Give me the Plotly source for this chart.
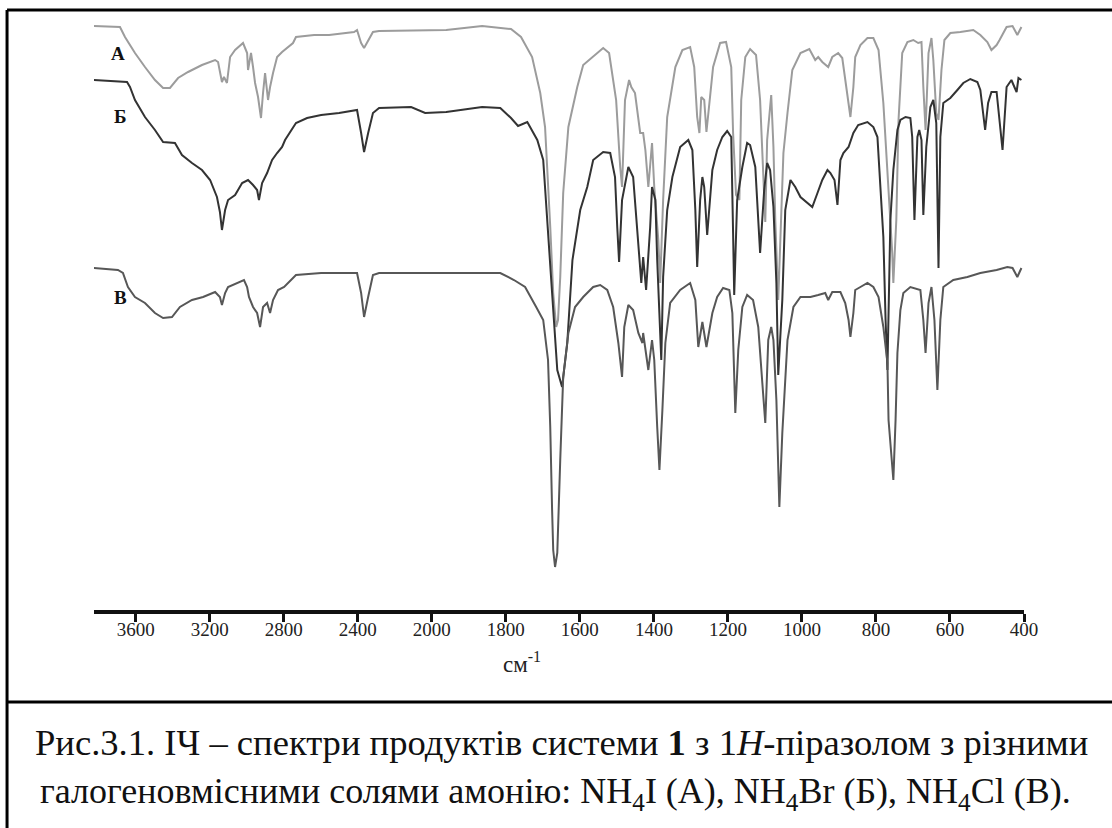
import numpy as np
import plotly.graph_objects as go

# ---------------- data (wavenumber, cm^-1 ; signal in arbitrary stacked units) -------------
wn_A = [3831, 3685, 3658, 3604, 3550, 3496, 3452, 3415, 3371, 3317, 3242, 3171, 3155, 3134, 3123,
        3107, 3090, 3063, 3020, 2998, 2993, 2977, 2966, 2955, 2939, 2923, 2912, 2901, 2885, 2874,
        2858, 2836, 2809, 2750, 2734, 2636, 2555, 2420, 2404, 2382, 2366, 2344, 2318, 2285, 1961,
        1864, 1786, 1759, 1729, 1707, 1694, 1680, 1672, 1664, 1659, 1653, 1645, 1631, 1607, 1591,
        1567, 1537, 1521, 1502, 1491, 1486, 1478, 1467, 1461, 1451, 1437, 1429, 1423, 1415, 1405,
        1399, 1388, 1383, 1375, 1364, 1342, 1323, 1302, 1291, 1283, 1277, 1272, 1264, 1258, 1250,
        1240, 1221, 1205, 1191, 1186, 1178, 1169, 1164, 1153, 1140, 1124, 1113, 1105, 1099, 1094,
        1083, 1077, 1072, 1064, 1050, 1039, 1026, 1004, 980, 964, 956, 945, 929, 918, 902,
        891, 883, 874, 869, 861, 856, 842, 823, 807, 793, 780, 766, 756, 753, 745,
        739, 729, 715, 699, 686, 677, 672, 666, 658, 650, 645, 637, 631, 623, 615,
        599, 572, 537, 518, 499, 488, 474, 466, 447, 431, 418, 407]
val_A = [584, 583, 573, 557, 543, 530, 522, 522, 532, 538, 545, 550, 548, 528, 533,
         527, 553, 560, 567, 557, 540, 557, 543, 527, 513, 492, 517, 537, 510, 523,
         537, 553, 558, 567, 573, 575, 575, 578, 580, 567, 562, 570, 578, 579, 580,
         584, 581, 573, 553, 517, 483, 383, 317, 283, 290, 333, 417, 483, 523, 545,
         553, 562, 557, 510, 443, 423, 510, 530, 523, 517, 477, 477, 460, 423, 467,
         423, 370, 327, 410, 493, 543, 560, 563, 543, 493, 477, 513, 510, 478, 510,
         543, 567, 568, 543, 477, 415, 410, 510, 553, 561, 555, 510, 443, 388, 470,
         515, 463, 390, 310, 457, 497, 540, 557, 561, 550, 553, 548, 543, 553, 557,
         552, 530, 507, 493, 523, 553, 565, 572, 572, 560, 507, 423, 357, 327, 390,
         490, 557, 568, 570, 567, 568, 523, 480, 557, 572, 550, 497, 490, 540, 570,
         577, 578, 580, 575, 568, 560, 565, 570, 583, 584, 575, 583]

wn_B = [3831, 3647, 3631, 3604, 3550, 3496, 3452, 3388, 3350, 3296, 3242, 3198, 3161, 3145, 3134,
        3117, 3101, 3063, 3025, 2993, 2966, 2944, 2934, 2917, 2890, 2863, 2836, 2809, 2793, 2734,
        2674, 2598, 2501, 2404, 2382, 2366, 2344, 2318, 2285, 2112, 2036, 1961, 1864, 1815, 1786,
        1767, 1742, 1715, 1699, 1686, 1675, 1661, 1648, 1634, 1620, 1599, 1580, 1564, 1537, 1518,
        1505, 1499, 1494, 1486, 1469, 1456, 1445, 1434, 1429, 1421, 1410, 1405, 1396, 1391, 1380,
        1375, 1364, 1350, 1329, 1307, 1296, 1288, 1283, 1275, 1269, 1264, 1256, 1242, 1229, 1215,
        1202, 1191, 1186, 1183, 1175, 1161, 1148, 1140, 1126, 1113, 1102, 1094, 1086, 1077, 1069,
        1064, 1053, 1045, 1031, 1018, 1004, 985, 972, 958, 945, 931, 923, 912, 904, 896,
        888, 874, 861, 848, 823, 807, 796, 788, 780, 774, 769, 761, 753, 742, 734,
        720, 707, 702, 696, 688, 683, 677, 672, 664, 653, 645, 637, 631, 626, 618,
        599, 580, 564, 545, 526, 518, 510, 505, 497, 488, 474, 466, 458, 447, 434,
        426, 420, 415, 407]
val_B = [530, 528, 523, 510, 493, 480, 468, 467, 455, 447, 440, 430, 413, 398, 380,
         400, 410, 415, 427, 430, 425, 420, 410, 427, 437, 450, 457, 463, 470, 487,
         492, 495, 497, 500, 477, 458, 477, 497, 502, 503, 497, 498, 503, 502, 492,
         484, 488, 470, 450, 383, 317, 240, 223, 267, 350, 400, 423, 450, 458, 457,
         433, 383, 348, 410, 443, 433, 383, 327, 353, 320, 383, 423, 410, 350, 250,
         333, 400, 433, 463, 470, 460, 400, 343, 410, 433, 423, 375, 440, 460, 473,
         479, 473, 377, 315, 410, 443, 467, 465, 443, 357, 420, 447, 440, 403, 327,
         235, 310, 400, 430, 423, 413, 407, 403, 417, 430, 440, 437, 430, 405, 450,
         457, 463, 477, 485, 488, 483, 473, 423, 373, 290, 240, 390, 440, 480, 490,
         493, 492, 473, 390, 473, 480, 470, 395, 463, 503, 510, 487, 342, 473, 507,
         512, 520, 527, 531, 528, 520, 497, 480, 507, 518, 518, 490, 460, 523, 530,
         523, 518, 532, 530]

wn_C = [3831, 3696, 3669, 3642, 3604, 3550, 3496, 3452, 3404, 3361, 3296, 3236, 3171, 3145, 3134,
        3117, 3101, 3047, 3015, 2998, 2988, 2966, 2944, 2928, 2912, 2890, 2874, 2858, 2831, 2798,
        2734, 2598, 2404, 2382, 2366, 2344, 2318, 2285, 1815, 1778, 1748, 1718, 1699, 1686, 1680,
        1675, 1672, 1667, 1661, 1653, 1645, 1631, 1613, 1591, 1564, 1545, 1526, 1510, 1496, 1486,
        1480, 1469, 1456, 1442, 1431, 1429, 1415, 1405, 1399, 1391, 1385, 1377, 1369, 1356, 1329,
        1302, 1288, 1280, 1269, 1258, 1242, 1229, 1213, 1196, 1188, 1180, 1172, 1161, 1148, 1132,
        1118, 1107, 1099, 1091, 1083, 1077, 1069, 1061, 1053, 1039, 1023, 1004, 977, 956, 937,
        929, 918, 896, 883, 874, 869, 861, 856, 842, 823, 807, 793, 780, 769, 766,
        756, 753, 747, 742, 734, 726, 707, 680, 672, 666, 658, 650, 642, 634, 626,
        618, 591, 553, 518, 474, 445, 431, 418, 407]
val_C = [342, 340, 337, 323, 313, 307, 297, 292, 293, 303, 310, 313, 318, 313, 305,
         317, 323, 327, 330, 323, 313, 303, 297, 283, 303, 307, 297, 310, 320, 323,
         335, 337, 337, 317, 293, 313, 335, 337, 337, 330, 323, 303, 290, 250, 183,
         100, 60, 43, 57, 150, 233, 277, 303, 313, 323, 325, 320, 303, 267, 233,
         283, 305, 300, 277, 267, 277, 240, 270, 250, 183, 140, 200, 267, 307, 320,
         327, 310, 263, 288, 263, 297, 313, 322, 320, 297, 197, 260, 303, 315, 310,
         283, 227, 187, 270, 283, 270, 210, 103, 177, 270, 303, 313, 313, 315, 317,
         310, 318, 318, 307, 290, 273, 297, 320, 323, 327, 323, 313, 283, 247, 190,
         140, 130, 190, 257, 300, 317, 323, 320, 290, 257, 307, 323, 290, 220, 290,
         323, 330, 333, 337, 340, 343, 342, 333, 342]

series_names = ["А", "Б", "В"]
series_colors = ["#9c9c9c", "#333333", "#575757"]

tick_vals_wn = [3600, 3200, 2800, 2400, 2000, 1800, 1600, 1400, 1200, 1000, 800, 600, 400]
tick_text = [str(t) for t in tick_vals_wn]

axis_title = "см<sup>-1</sup>"
caption_line1 = "Рис.3.1. ІЧ – спектри продуктів системи <b>1</b> з 1<i>H</i>-піразолом з різними"
caption_line2 = ("галогеновмісними солями амонію: NH<sub>4</sub>I (А), NH<sub>4</sub>Br (Б), "
                 "NH<sub>4</sub>Cl (В).")

# ---------------- axis with a scale change at 2000 cm^-1 (as on the instrument chart) -------
def to_axis(wn):
    wn = np.asarray(wn, dtype=float)
    return np.where(wn >= 2000, (3600 - wn) / 400.0, 4 + (2000 - wn) / 200.0)

SERIF = "Liberation Serif, Times New Roman, serif"

fig = go.Figure()
for wn, val, name, col in zip([wn_A, wn_B, wn_C], [val_A, val_B, val_C], series_names, series_colors):
    fig.add_trace(go.Scatter(x=to_axis(wn), y=val, mode="lines", name=name,
                             line=dict(color=col, width=2), showlegend=False))

fig.update_layout(
    width=1112, height=828, autosize=False,
    margin=dict(l=94, r=88, t=20, b=218, pad=0),
    paper_bgcolor="white", plot_bgcolor="white",
    font=dict(family=SERIF, color="#1a1a1a"),
)
fig.update_xaxes(
    range=[-0.5635, 12.0], tickmode="array",
    tickvals=list(to_axis(tick_vals_wn)), ticktext=tick_text,
    showgrid=False, zeroline=False,
    showline=True, linecolor="#111111", linewidth=4,
    ticks="outside", ticklen=8, tickwidth=3, tickcolor="#111111",
    ticklabelstandoff=-9,
    tickfont=dict(family=SERIF, size=19, color="#222222"),
)
fig.update_yaxes(range=[0, 590], visible=False, showgrid=False, zeroline=False)

def note(text, x, y, size, color="#111111"):
    fig.add_annotation(x=x, y=y, xref="paper", yref="paper", text=text, showarrow=False,
                       xanchor="center", yanchor="middle",
                       font=dict(family=SERIF, size=size, color=color))

# spectrum labels
for name, xp, yp in zip(series_names, [0.0258, 0.028, 0.028], [0.944, 0.836, 0.529]):
    note("<b>%s</b>" % name, xp, yp, 19)

# axis unit
note(axis_title, 0.4602, -0.0898, 23, "#222222")

# caption
note(caption_line1, 0.5027, -0.2254, 36.6)
note(caption_line2, 0.4957, -0.3102, 36)

# frame of the figure/caption table
frame = dict(type="line", xref="paper", yref="paper", line=dict(color="black", width=3))
fig.add_shape(**frame, x0=-0.0935, x1=-0.0935, y0=1.0169, y1=-0.40)
fig.add_shape(**frame, x0=-0.0935, x1=1.12, y0=1.0169, y1=1.0169)
fig.add_shape(**frame, x0=-0.0935, x1=1.12, y0=-0.1559, y1=-0.1559)

fig.write_html("out.html", config={"displayModeBar": False},
               post_script="document.body.style.margin='0';")
